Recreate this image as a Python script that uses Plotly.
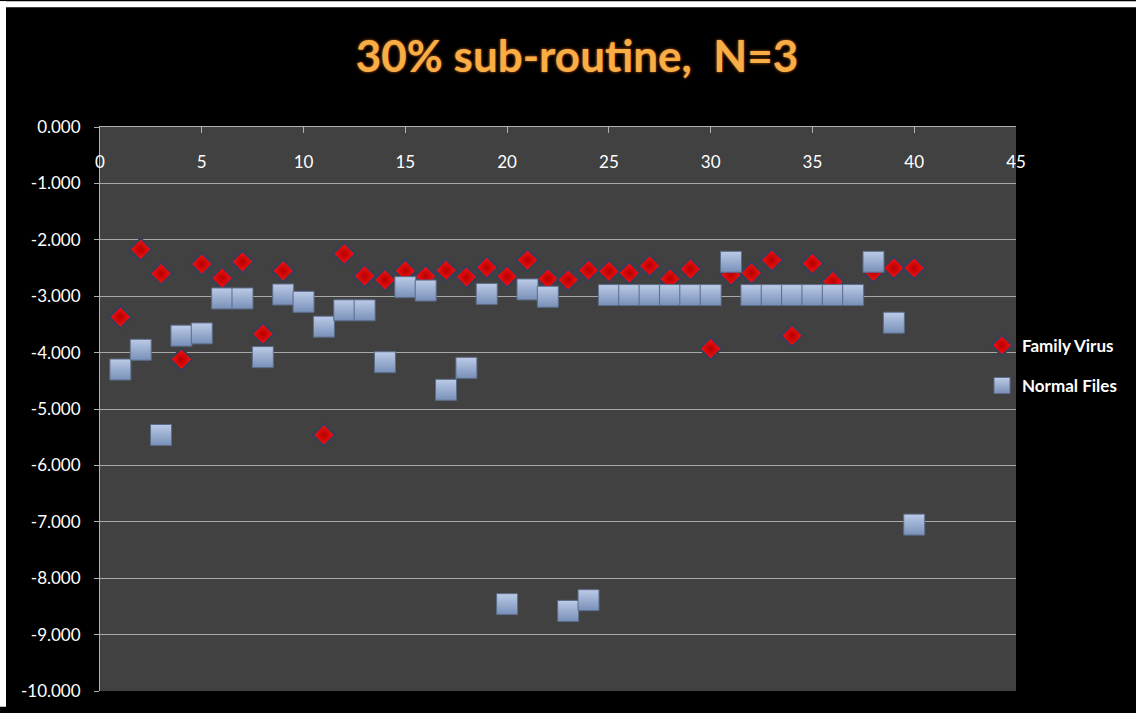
import plotly.graph_objects as go

# Sample index (1..40)
sample_idx = list(range(1, 41))

# Scores for the family-virus set
family_virus = [
    -3.37, -2.17, -2.60, -4.12, -2.43, -2.68, -2.39, -3.67, -2.55, -3.08,
    -5.46, -2.25, -2.64, -2.71, -2.55, -2.65, -2.54, -2.66, -2.49, -2.65,
    -2.36, -2.69, -2.71, -2.54, -2.56, -2.59, -2.46, -2.69, -2.52, -3.93,
    -2.62, -2.59, -2.36, -3.70, -2.42, -2.74, -2.96, -2.56, -2.50, -2.50,
]

# Scores for the normal-file set
normal_files = [
    -4.30, -3.95, -5.46, -3.70, -3.66, -3.04, -3.04, -4.08, -2.97, -3.10,
    -3.54, -3.25, -3.25, -4.17, -2.84, -2.90, -4.66, -4.27, -2.96, -8.46,
    -2.88, -3.01, -8.58, -8.39, -2.98, -2.98, -2.98, -2.98, -2.98, -2.98,
    -2.39, -2.98, -2.98, -2.98, -2.98, -2.98, -2.98, -2.39, -3.47, -7.05,
]

x_ticks = list(range(0, 46, 5))
y_ticks = list(range(-10, 1))

# Canvas / plot-area geometry (pixels)
W, H = 1136, 713
L, R, T, B = 100, 1016, 127, 697
pw, ph = R - L, B - T

def px_x(p):
    return (p - L) / pw

def px_y(p):
    return (B - p) / ph

fig = go.Figure()

fig.add_trace(go.Scatter(
    x=sample_idx, y=family_virus, mode="markers", name="Family Virus",
    legendgroup="fv",
    marker=dict(symbol="diamond", size=17, color="#ff1414",
                gradient=dict(type="radial", color="#b40000"),
                line=dict(color="#34405a", width=2)),
))

fig.add_trace(go.Scatter(
    x=sample_idx, y=normal_files, mode="markers", name="Normal Files",
    legendgroup="nf",
    marker=dict(symbol="square", size=21, color="#bccbe7",
                gradient=dict(type="vertical", color="#7890b8"),
                line=dict(color="#5c6c88", width=1)),
))

font_family = "Lato, 'Open Sans', sans-serif"

fig.update_layout(
    width=W, height=H,
    margin=dict(l=L, r=W - R, t=T, b=H - B, pad=0),
    paper_bgcolor="#000000",
    plot_bgcolor="#414141",
    font=dict(family=font_family, color="#ffffff", size=16),
    title=dict(
        text="<b>30% sub-routine,  N=3</b>",
        x=577 / W, xanchor="center",
        y=1 - 57 / H, yanchor="middle",
        font=dict(family=font_family, size=44, color="#f9ad45",
                  shadow="0px 0px 3px #c8641c"),
    ),
    xaxis=dict(
        range=[0, 45], side="top",
        tickmode="array", tickvals=x_ticks, ticktext=[str(v) for v in x_ticks],
        ticks="inside", ticklen=6, tickcolor="#b0b0b0",
        ticklabelposition="inside", ticklabelstandoff=24,
        ticklabeloverflow="allow",
        showgrid=False, zeroline=False,
        showline=True, linecolor="#b0b0b0", linewidth=1,
        tickfont=dict(family=font_family, size=17, color="#ffffff"),
    ),
    yaxis=dict(
        range=[-10, 0],
        tickmode="array", tickvals=y_ticks,
        ticktext=[f"{v:.3f}" for v in y_ticks],
        ticks="outside", ticklen=5, tickcolor="#b0b0b0",
        ticklabelstandoff=10,
        showgrid=True, gridcolor="#a8a8a8", gridwidth=1,
        zeroline=False,
        showline=True, linecolor="#b0b0b0", linewidth=1,
        tickfont=dict(family=font_family, size=17, color="#ffffff"),
    ),
    legend=dict(
        x=px_x(982), xanchor="left",
        y=px_y(330), yanchor="top",
        bgcolor="rgba(0,0,0,0)",
        font=dict(family=font_family, size=17, color="#ffffff", weight="bold"),
        tracegroupgap=15,
    ),
    showlegend=True,
)

# Thin white frame along the top and left edges of the canvas
fig.add_shape(type="rect", xref="paper", yref="paper",
              x0=px_x(0), x1=px_x(W), y0=px_y(6), y1=px_y(0),
              fillcolor="#ffffff", line=dict(width=0), layer="above")
fig.add_shape(type="rect", xref="paper", yref="paper",
              x0=px_x(0), x1=px_x(6), y0=px_y(H), y1=px_y(0),
              fillcolor="#ffffff", line=dict(width=0), layer="above")

fig.write_html("out.html")
